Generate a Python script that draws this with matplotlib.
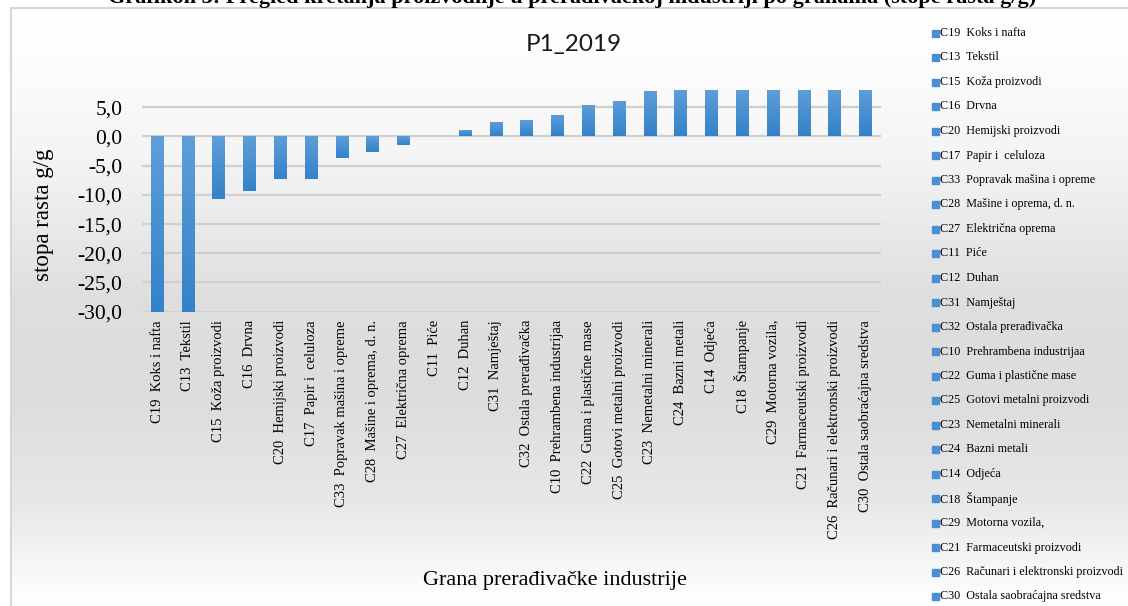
import numpy as np
import matplotlib
matplotlib.use("Agg")
from matplotlib import pyplot as plt
from matplotlib.patches import Rectangle
from matplotlib.lines import Line2D
from matplotlib.colors import LinearSegmentedColormap

# data
labels = ["C19  Koks i nafta", "C13  Tekstil", "C15  Koža proizvodi", "C16  Drvna",
          "C20  Hemijski proizvodi", "C17  Papir i  celuloza",
          "C33  Popravak mašina i opreme", "C28  Mašine i oprema, d. n.",
          "C27  Električna oprema", "C11  Piće", "C12  Duhan", "C31  Namještaj",
          "C32  Ostala prerađivačka", "C10  Prehrambena industrijaa",
          "C22  Guma i plastične mase", "C25  Gotovi metalni proizvodi",
          "C23  Nemetalni minerali", "C24  Bazni metali", "C14  Odjeća",
          "C18  Štampanje", "C29  Motorna vozila,", "C21  Farmaceutski proizvodi",
          "C26  Računari i elektronski proizvodi", "C30  Ostala saobraćajna sredstva"]
values = [-30.0, -30.0, -10.7, -9.3, -7.3, -7.3, -3.7, -2.7, -1.5, 0.0, 1.1, 2.5,
          2.8, 3.7, 5.4, 6.1, 7.8, 8.0, 8.0, 8.0, 8.0, 8.0, 8.0, 8.0]
y_ticks = [-30, -25, -20, -15, -10, -5, 0, 5]

W, H = 1128, 606
serif = "Liberation Serif"

fig = plt.figure(figsize=(W / 100, H / 100), dpi=100, facecolor="white")

# chart background gradient (white -> gray -> white, top to bottom), 2px strips
for top in range(8, H, 2):
    g = np.interp(top + 1, [0, 60, 160, 300, 400, 500, 606],
                  [1.0, 0.99, 0.955, 0.87, 0.865, 0.905, 1.0])
    fig.add_artist(Rectangle((11 / W, 1 - (top + 2.5) / H), 1 - 11 / W, 2.6 / H,
                             transform=fig.transFigure, facecolor=(g, g, g),
                             edgecolor="none", zorder=-10))
fig.add_artist(Line2D([11 / W, 11 / W, 1], [0, 1 - 8 / H, 1 - 8 / H],
                      transform=fig.transFigure, color="#d6d6d6", lw=1.5, zorder=-9))

ax = fig.add_axes([141.7 / W, 1 - 311.7 / H, (881 - 141.7) / W, (311.7 - 89.7) / H])
ax.patch.set_visible(False)

x = np.arange(len(values))
bars = ax.bar(x, values, width=0.41, color="#4a8fd3", zorder=3)

cmap = LinearSegmentedColormap.from_list("bar", ["#5f9ed9", "#3382ca"])
grad = np.linspace(0, 1, 100)[:, None]
for b in bars:
    bx, by = b.get_x(), b.get_y()
    bw, bh = b.get_width(), b.get_height()
    if bh == 0:
        continue
    top, bot = max(by, by + bh), min(by, by + bh)
    im = ax.imshow(grad, cmap=cmap, aspect="auto", extent=[bx, bx + bw, bot, top],
                   origin="upper", zorder=4)
    im.set_clip_path(b)

ax.set_xlim(-0.5, len(values) - 0.5)
ax.set_ylim(-30, 8)
ax.set_yticks(y_ticks)
ax.set_yticklabels([f"{v:.1f}".replace(".", ",") for v in y_ticks],
                   fontfamily=serif, fontsize=15.5)
ax.set_xticks(x)
ax.set_xticklabels(labels, rotation=90, ha="center", va="top",
                   fontfamily=serif, fontsize=10.5)
ax.tick_params(axis="both", length=0)
ax.tick_params(axis="y", pad=14)
ax.tick_params(axis="x", pad=6)
ax.grid(axis="y", color="#d0d0d0", lw=1.6, zorder=1)
for s in ax.spines.values():
    s.set_visible(False)

# texts
fig.text(572 / W, 1 - 3 / H,
         "Grafikon 3: Pregled kretanja proizvodnje u prerađivačkoj industriji po granama (stope rasta g/g)",
         ha="center", va="baseline", fontfamily=serif, fontweight="bold", fontsize=16)
fig.text(574 / W, 1 - 44 / H, "P1_2019", ha="center", va="center",
         fontfamily="Lato", fontsize=17.5, color="#1a1a1a")
fig.text(43 / W, 1 - 215 / H, "stopa rasta g/g", ha="center", va="center",
         rotation=90, fontfamily=serif, fontsize=16.5)
fig.text(555 / W, 1 - 581 / H, "Grana prerađivačke industrije", ha="center",
         va="center", fontfamily=serif, fontsize=16)

# legend
for i, lab in enumerate(labels):
    yc = 33 + i * 24.5
    fig.add_artist(Rectangle((932 / W, 1 - (yc + 3.5) / H), 7 / W, 7 / H,
                             transform=fig.transFigure, color="#4a8fd3"))
    fig.text(940.5 / W, 1 - yc / H, lab, ha="left", va="center",
             fontfamily=serif, fontsize=8.7)

fig.savefig("out.png", dpi=100)
